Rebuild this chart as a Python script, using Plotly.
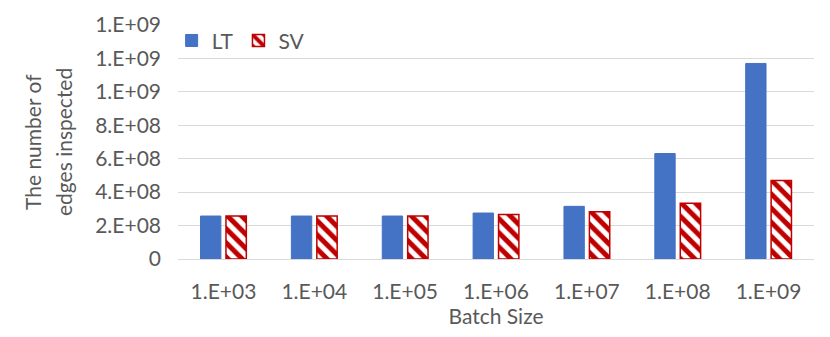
import plotly.graph_objects as go

batch_sizes = ["1.E+03", "1.E+04", "1.E+05", "1.E+06", "1.E+07", "1.E+08", "1.E+09"]
lt_edges = [2.57e8, 2.57e8, 2.57e8, 2.75e8, 3.15e8, 6.31e8, 1.170e9]
sv_edges = [2.57e8, 2.57e8, 2.57e8, 2.66e8, 2.83e8, 3.34e8, 4.70e8]
y_ticks = [0, 2e8, 4e8, 6e8, 8e8, 1.0e9, 1.2e9, 1.4e9]
y_title = ["The number of", "edges inspected"]


def excel_sci(v):
    # mimic Excel "0.E+00" number format
    if v == 0:
        return "0"
    m, e = f"{v:.0E}".split("E")
    return f"{m}.E{e}"


font = "Lato, 'Open Sans', sans-serif"
grey = "#595959"
fs = 21

fig = go.Figure()
fig.add_trace(go.Bar(
    x=batch_sizes, y=lt_edges, name="LT",
    marker=dict(color="#4472C4", line=dict(color="#4472C4", width=1)),
))
fig.add_trace(go.Bar(
    x=batch_sizes, y=sv_edges, name="SV",
    marker=dict(
        color="white",
        line=dict(color="#C00000", width=1.5),
        pattern=dict(shape="\\", fgcolor="#C00000", bgcolor="white",
                     size=10, solidity=0.5, fillmode="replace"),
    ),
))

# y title as two annotations so the line spacing can match
for shift, line in zip([-146, -115], y_title):
    fig.add_annotation(
        text=line, xref="paper", yref="paper", x=0, y=0.5,
        xanchor="center", yanchor="middle", xshift=shift,
        textangle=-90, showarrow=False, font=dict(size=fs, color=grey),
    )

# page body has an 8px margin, so the figure is sized/margined to compensate
fig.update_layout(
    width=822, height=329,
    margin=dict(l=170, r=16, t=17, b=78, autoexpand=False),
    paper_bgcolor="white", plot_bgcolor="white",
    barmode="group", bargap=0.44, bargroupgap=0.2,
    font=dict(family=font, color=grey, size=fs),
    legend=dict(
        orientation="h", x=-0.01, y=1.02, xanchor="left", yanchor="top",
        font=dict(size=fs, color=grey), bgcolor="rgba(0,0,0,0)",
        itemwidth=30,
    ),
    xaxis=dict(
        title=dict(text="Batch Size", font=dict(size=fs, color=grey), standoff=2),
        showline=True, linecolor="#D9D9D9", linewidth=1, automargin=False,
        ticks="", tickfont=dict(size=fs, color=grey), ticklabelstandoff=14,
    ),
    yaxis=dict(
        range=[0, 1.4e9], automargin=False,
        tickvals=y_ticks, ticktext=[excel_sci(v) for v in y_ticks],
        gridcolor="#D9D9D9", gridwidth=1, zeroline=False,
        tickfont=dict(size=fs, color=grey), ticklabelstandoff=16,
    ),
)

fig.write_html("out.html")
